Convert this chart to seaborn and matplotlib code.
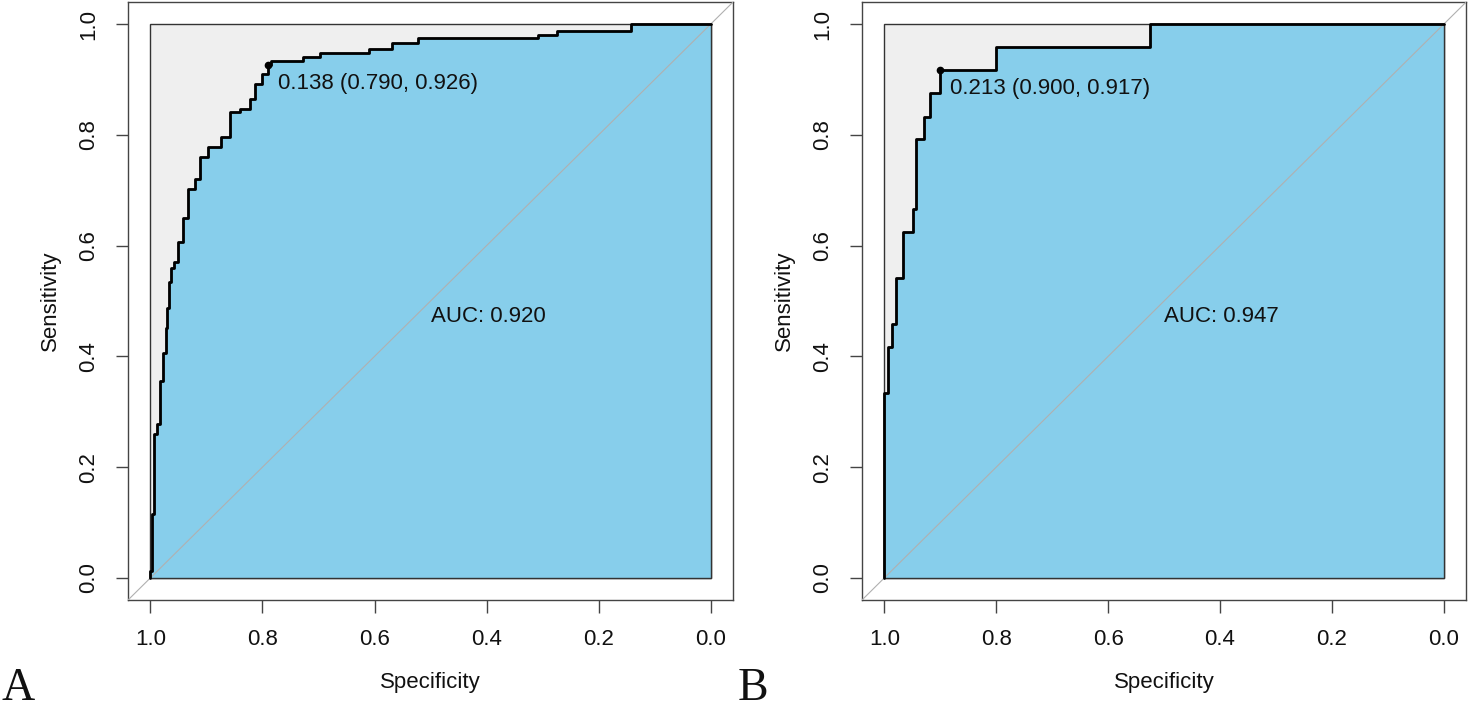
import matplotlib
matplotlib.use('Agg')
import matplotlib.pyplot as plt
import seaborn as sns
import numpy as np

sns.set_style('white')
plt.rcParams['font.family'] = ['Liberation Sans', 'DejaVu Sans']

# ROC corner points (specificity, sensitivity)
spec_a = [1.000, 1.000, 0.997, 0.994, 0.989, 0.983, 0.977, 0.973, 0.970, 0.967, 0.963,
          0.958, 0.950, 0.942, 0.933, 0.921, 0.911, 0.897, 0.874, 0.858, 0.840, 0.823,
          0.813, 0.800, 0.790, 0.785, 0.727, 0.697, 0.610, 0.568, 0.523, 0.309, 0.274,
          0.143, 0.000]
sens_a = [0.000, 0.013, 0.115, 0.259, 0.277, 0.355, 0.406, 0.451, 0.487, 0.535, 0.559,
          0.571, 0.607, 0.649, 0.703, 0.721, 0.760, 0.778, 0.796, 0.841, 0.847, 0.865,
          0.892, 0.910, 0.926, 0.933, 0.940, 0.948, 0.955, 0.966, 0.975, 0.981, 0.987,
          1.000, 1.000]

spec_b = [1.000, 1.000, 0.993, 0.986, 0.980, 0.966, 0.948, 0.943, 0.930, 0.918, 0.900,
          0.800, 0.525, 0.000]
sens_b = [0.000, 0.333, 0.417, 0.458, 0.542, 0.625, 0.667, 0.792, 0.833, 0.875, 0.917,
          0.958, 1.000, 1.000]

thres_a = (0.138, 0.790, 0.926)
thres_b = (0.213, 0.900, 0.917)
auc_a = 0.920
auc_b = 0.947

ticks = [1.0, 0.8, 0.6, 0.4, 0.2, 0.0]
tick_labels = ['1.0', '0.8', '0.6', '0.4', '0.2', '0.0']

fig = plt.figure(figsize=(14.7, 7.12), dpi=100)
ax_a = fig.add_axes([0.0871, 0.1573, 0.4116, 0.8399])
ax_b = fig.add_axes([0.5864, 0.1573, 0.4110, 0.8399])


def roc_panel(ax, spec, sens, thres, auc):
    # max auc polygon (grey) and auc polygon (skyblue)
    ax.fill([1, 1, 0, 0], [0, 1, 1, 0], facecolor='#EFEFEF', edgecolor='#333333', lw=1, zorder=1)
    ax.fill_between(spec, sens, 0, step='post', facecolor='#87CEEB', edgecolor='#333333',
                    lw=1, zorder=2)
    ax.axline((0, 1), (1, 0), color='#B0B0B0', lw=0.8, zorder=3)
    sns.lineplot(x=spec, y=sens, sort=False, estimator=None, drawstyle='steps-post',
                 color='black', lw=2.0, ax=ax, zorder=4)
    ax.plot(thres[1], thres[2], 'o', color='black', ms=4.5, zorder=5)
    ax.annotate(f'{thres[0]:.3f} ({thres[1]:.3f}, {thres[2]:.3f})', (thres[1], thres[2]),
                xytext=(7, -6), textcoords='offset points', ha='left', va='top',
                fontsize=16, color='#111111', zorder=6)
    ax.text(0.5, 0.472, f'AUC: {auc:.3f}', ha='left', va='center', fontsize=16,
            color='#111111', zorder=6)

    ax.set_xlim(1.04, -0.04)
    ax.set_ylim(-0.04, 1.04)
    ax.set_xticks(ticks)
    ax.set_xticklabels(tick_labels)
    ax.set_yticks(ticks)
    ax.set_yticklabels(tick_labels, rotation=90, va='center')
    ax.tick_params(axis='both', direction='out', length=9, width=1, color='#444444',
                   labelsize=16, labelcolor='#111111')
    ax.tick_params(axis='x', pad=12, bottom=True)
    ax.tick_params(axis='y', pad=12, left=True)
    ax.set_xlabel('Specificity', fontsize=16, labelpad=16, color='#111111')
    ax.set_ylabel('Sensitivity', fontsize=16, labelpad=12, color='#111111')
    for s in ax.spines.values():
        s.set_color('#444444')
        s.set_linewidth(1)
    ax.grid(False)


roc_panel(ax_a, spec_a, sens_a, thres_a, auc_a)
roc_panel(ax_b, spec_b, sens_b, thres_b, auc_b)

serif = ['Liberation Serif', 'DejaVu Serif']
fig.text(0.001, 0.017, 'A', fontsize=33, family=serif, color='#111111')
fig.text(0.502, 0.017, 'B', fontsize=33, family=serif, color='#111111')

plt.savefig('out.png', dpi=100)
